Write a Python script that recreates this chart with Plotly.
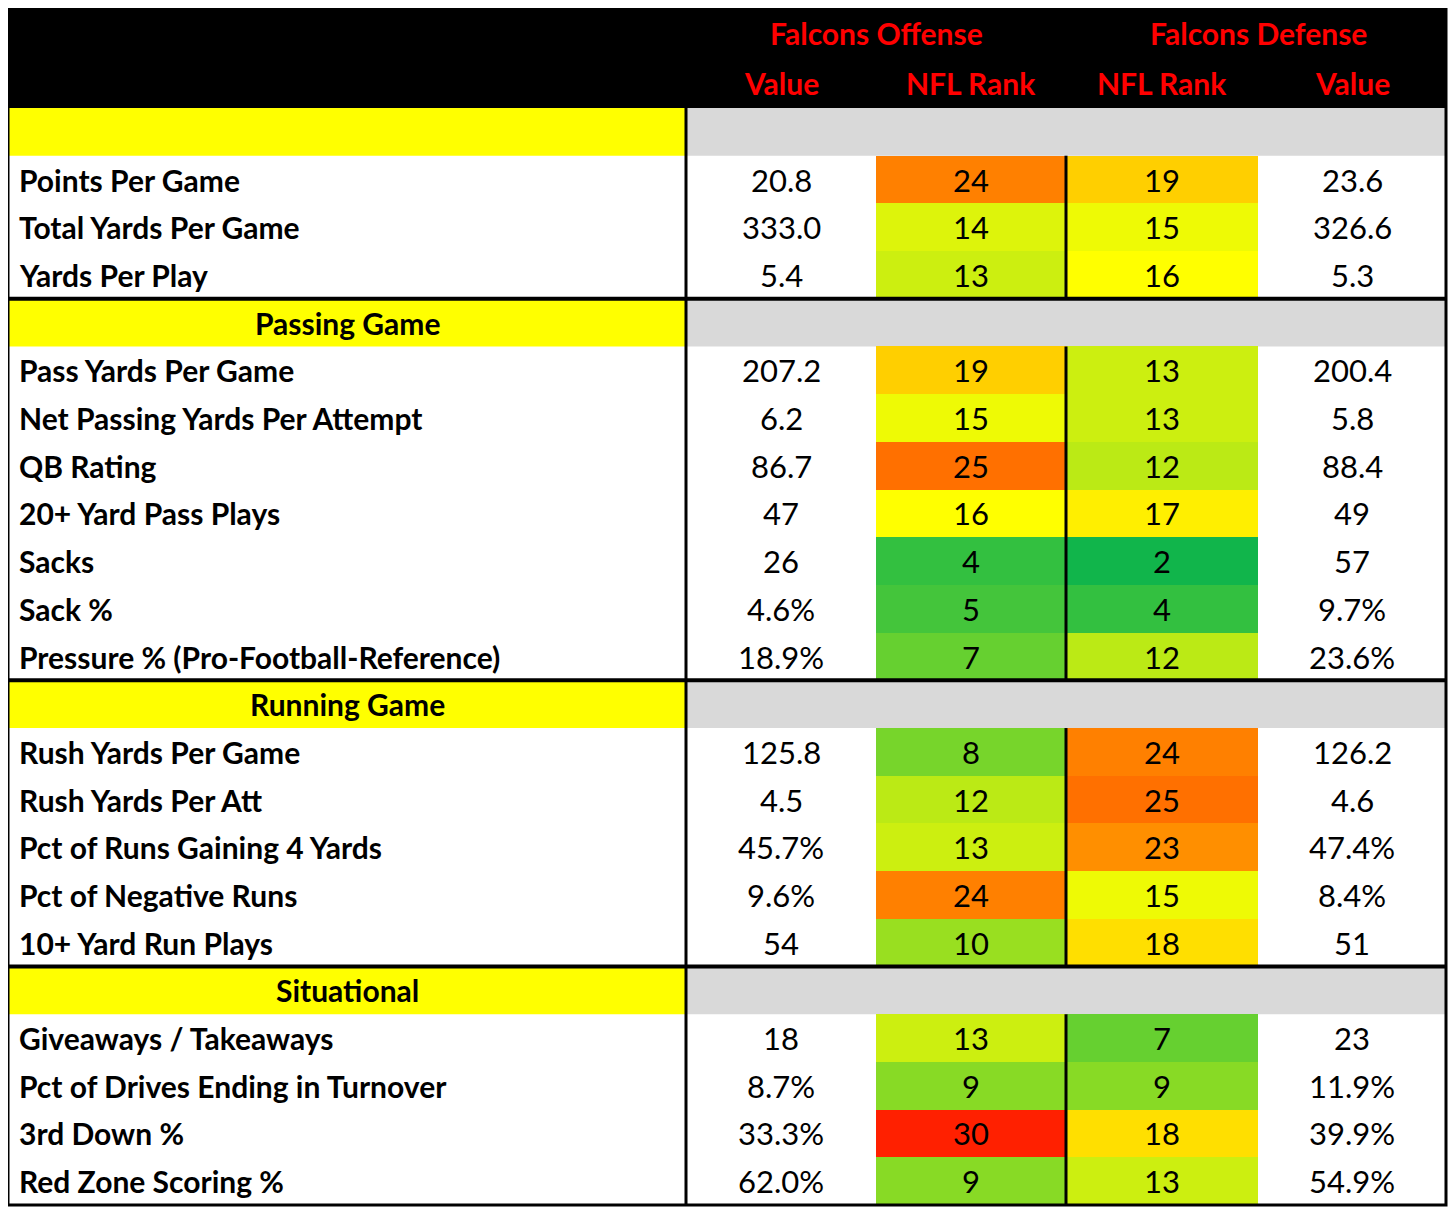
import plotly.graph_objects as go

# data
sections = ["", "Passing Game", "Running Game", "Situational"]
section_stats = [
    ["Points Per Game", "Total Yards Per Game", "Yards Per Play"],
    ["Pass Yards Per Game", "Net Passing Yards Per Attempt", "QB Rating",
     "20+ Yard Pass Plays", "Sacks", "Sack %", "Pressure % (Pro-Football-Reference)"],
    ["Rush Yards Per Game", "Rush Yards Per Att", "Pct of Runs Gaining 4 Yards",
     "Pct of Negative Runs", "10+ Yard Run Plays"],
    ["Giveaways / Takeaways", "Pct of Drives Ending in Turnover", "3rd Down %",
     "Red Zone Scoring %"],
]
off_value = ["20.8", "333.0", "5.4",
             "207.2", "6.2", "86.7", "47", "26", "4.6%", "18.9%",
             "125.8", "4.5", "45.7%", "9.6%", "54",
             "18", "8.7%", "33.3%", "62.0%"]
off_rank = [24, 14, 13,
            19, 15, 25, 16, 4, 5, 7,
            8, 12, 13, 24, 10,
            13, 9, 30, 9]
def_rank = [19, 15, 16,
            13, 13, 12, 17, 2, 4, 12,
            24, 25, 23, 15, 18,
            7, 9, 18, 13]
def_value = ["23.6", "326.6", "5.3",
             "200.4", "5.8", "88.4", "49", "57", "9.7%", "23.6%",
             "126.2", "4.6", "47.4%", "8.4%", "51",
             "23", "11.9%", "39.9%", "54.9%"]
group_titles = ["Falcons Offense", "Falcons Defense"]
col_titles = ["Value", "NFL Rank", "NFL Rank", "Value"]

# geometry of the table (page pixels); the page body has an 8px margin
W, H = 1456, 1215
PAD = 8
LEFT, RIGHT = 8, 1446
TOP, HEAD_B, BOTTOM = 8, 108, 1205
cols = [LEFT, 686, 876, 1066, 1258, RIGHT]
FONT = "Lato"
FS = 30
FS_VAL = 31

# build row list
rows = []
k = 0
for s, stats in zip(sections, section_stats):
    rows.append(("section", s, None))
    for st in stats:
        rows.append(("stat", st, k))
        k += 1
n_rows = len(rows)
row_h = (BOTTOM - HEAD_B) / n_rows
edges = [HEAD_B + i * row_h for i in range(n_rows + 1)]
mids = [(edges[i] + edges[i + 1]) / 2 for i in range(n_rows)]

fig = go.Figure()
shapes = []
annotations = []

# header
shapes.append(dict(type="rect", x0=LEFT, x1=RIGHT, y0=TOP, y1=HEAD_B,
                   fillcolor="black", line_width=0, layer="below"))
for i, t in enumerate(group_titles):
    annotations.append(dict(x=cols[1 + 2 * i + 1], y=TOP + 25, text=t, showarrow=False,
                            font=dict(family=FONT, size=FS, color="#FF0000", weight="bold")))
for i, t in enumerate(col_titles):
    annotations.append(dict(x=(cols[i + 1] + cols[i + 2]) / 2, y=TOP + 75, text=t, showarrow=False,
                            font=dict(family=FONT, size=FS, color="#FF0000", weight="bold")))

z = []
sec_idx = []
for i, (kind, label, j) in enumerate(rows):
    if kind == "section":
        sec_idx.append(i)
        z.append([None, None])
        shapes.append(dict(type="rect", x0=LEFT, x1=cols[1], y0=edges[i], y1=edges[i + 1],
                           fillcolor="#FFFF00", line_width=0, layer="below"))
        shapes.append(dict(type="rect", x0=cols[1], x1=RIGHT, y0=edges[i], y1=edges[i + 1],
                           fillcolor="#D9D9D9", line_width=0, layer="below"))
        if label:
            annotations.append(dict(x=(cols[0] + cols[1]) / 2, y=mids[i], text=label,
                                    showarrow=False,
                                    font=dict(family=FONT, size=FS, color="black", weight="bold")))
    else:
        z.append([off_rank[j], def_rank[j]])
        annotations.append(dict(x=LEFT + 9, y=mids[i], text=label, xanchor="left",
                                showarrow=False,
                                font=dict(family=FONT, size=FS, color="black", weight="bold")))
        cells = [off_value[j], str(off_rank[j]), str(def_rank[j]), def_value[j]]
        for c, txt in enumerate(cells):
            annotations.append(dict(x=(cols[c + 1] + cols[c + 2]) / 2, y=mids[i], text=txt,
                                    showarrow=False,
                                    font=dict(family=FONT, size=FS_VAL, color="black")))

# rank colour scale: green (1) -> yellow (16) -> red (32)
fig.add_trace(go.Heatmap(
    x=[cols[2], cols[3], cols[4]], y=edges, z=z,
    zmin=1, zmax=32,
    colorscale=[[0, "#00B050"], [15 / 31, "#FFFF00"], [1, "#FF0000"]],
    showscale=False, hoverinfo="skip",
))

# lines
for i in sec_idx[1:]:
    shapes.append(dict(type="line", x0=LEFT, x1=RIGHT, y0=edges[i], y1=edges[i],
                       line=dict(color="black", width=4)))
shapes.append(dict(type="line", x0=cols[1], x1=cols[1], y0=HEAD_B, y1=BOTTOM,
                   line=dict(color="black", width=3)))
bounds = sec_idx + [n_rows]
for a, b in zip(bounds[:-1], bounds[1:]):
    shapes.append(dict(type="line", x0=cols[3], x1=cols[3], y0=edges[a + 1], y1=edges[b],
                       line=dict(color="black", width=3)))
shapes.append(dict(type="rect", x0=LEFT, x1=RIGHT, y0=TOP, y1=BOTTOM,
                   line=dict(color="black", width=3)))

fig.update_layout(
    width=W - 2 * PAD, height=H - 2 * PAD,
    margin=dict(l=0, r=0, t=0, b=0),
    paper_bgcolor="white", plot_bgcolor="white",
    xaxis=dict(range=[PAD, W - PAD], visible=False, fixedrange=True),
    yaxis=dict(range=[H - PAD, PAD], visible=False, fixedrange=True),
    shapes=shapes, annotations=annotations,
    showlegend=False,
)

fig.write_html("out.html")
